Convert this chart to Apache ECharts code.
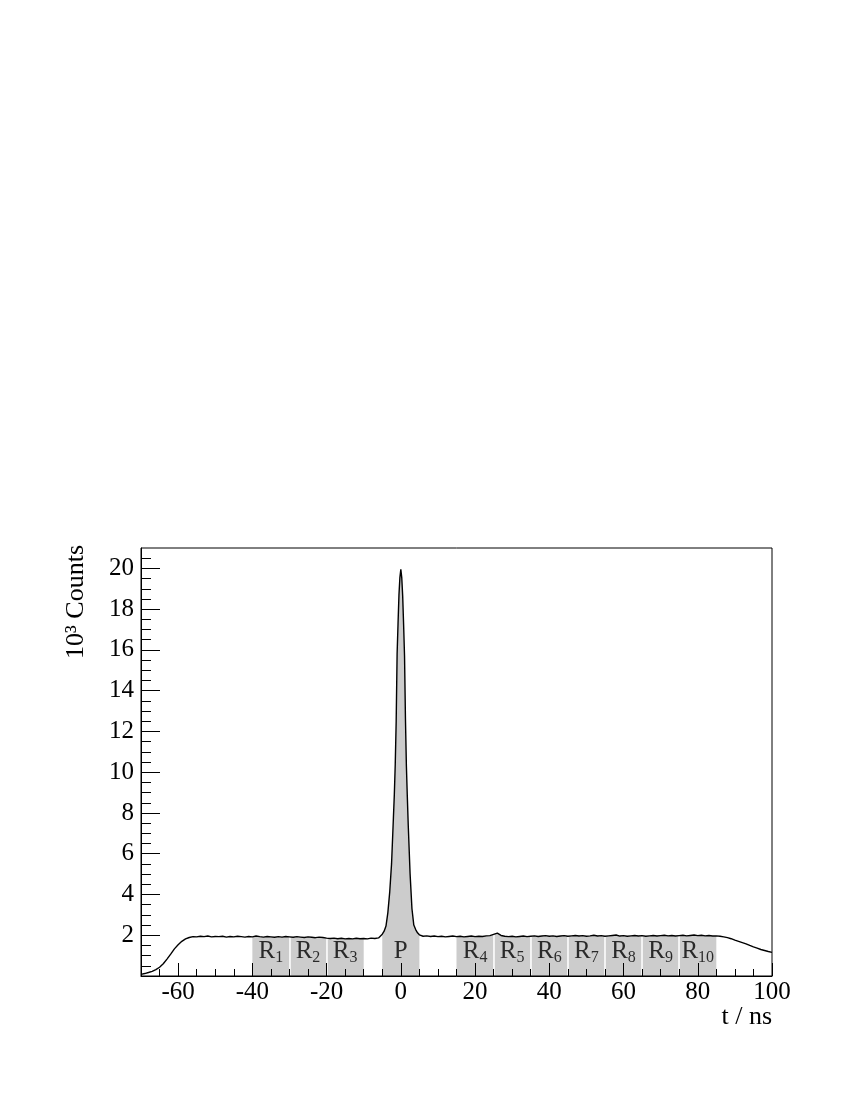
<!DOCTYPE html>
<html>
<head>
<meta charset="utf-8">
<script src="https://cdn.jsdelivr.net/npm/echarts@6/dist/echarts.min.js"></script>
<style>
    html, body { margin: 0; padding: 0; background: #fff; }
    #timechart { width: 850px; height: 1100px; }
</style>
</head>
<body>
<div id="timechart"></div>
<script>
// time axis in ns, counts in units of 10^3
var tNs = [
    -70, -69, -68, -67, -66, -65, -64, -63, -62, -61, -60, -59, -58, -57, -56, -55, -54, -53, -52, -51,
    -50, -49, -48, -47, -46, -45, -44, -43, -42, -41, -40, -39, -38, -37, -36, -35, -34, -33, -32, -31,
    -30, -29, -28, -27, -26, -25, -24, -23, -22, -21, -20, -19, -18, -17, -16, -15, -14, -13, -12, -11,
    -10, -9, -8, -7, -6, -5.5, -5, -4.5, -4, -3.5, -3, -2.5, -2, -1.75, -1.5, -1.25, -1, -0.75, -0.5, -0.25,
    0, 0.25, 0.5, 0.75, 1, 1.25, 1.5, 1.75, 2, 2.5, 3, 3.5, 4, 4.5, 5, 5.5, 6, 7, 8, 9,
    10, 11, 12, 13, 14, 15, 16, 17, 18, 19, 20, 21, 22, 23, 24, 25, 26, 27, 28, 29,
    30, 31, 32, 33, 34, 35, 36, 37, 38, 39, 40, 41, 42, 43, 44, 45, 46, 47, 48, 49,
    50, 51, 52, 53, 54, 55, 56, 57, 58, 59, 60, 61, 62, 63, 64, 65, 66, 67, 68, 69,
    70, 71, 72, 73, 74, 75, 76, 77, 78, 79, 80, 81, 82, 83, 84, 85, 86, 87, 88, 89,
    90, 91, 92, 93, 94, 95, 96, 97, 98, 99, 100
];
var counts = [
    0.08, 0.12, 0.17, 0.23, 0.31, 0.43, 0.60, 0.83, 1.07, 1.33, 1.53, 1.70, 1.82, 1.89, 1.93, 1.92, 1.95, 1.93, 1.96, 1.92,
    1.94, 1.93, 1.95, 1.91, 1.94, 1.92, 1.95, 1.93, 1.91, 1.94, 1.92, 1.96, 1.93, 1.91, 1.94, 1.92, 1.90, 1.93, 1.91, 1.94,
    1.92, 1.90, 1.93, 1.91, 1.89, 1.92, 1.90, 1.88, 1.91, 1.89, 1.86, 1.84, 1.86, 1.83, 1.85, 1.82, 1.84, 1.82, 1.85, 1.83,
    1.84, 1.82, 1.86, 1.84, 1.87, 1.95, 2.05, 2.20, 2.45, 3.10, 4.10, 5.50, 7.75, 8.90, 10.40, 12.50, 15.80, 17.30, 18.70, 19.55,
    19.95, 19.55, 18.65, 17.25, 15.70, 12.60, 10.30, 8.80, 7.40, 5.00, 3.30, 2.50, 2.28, 2.12, 2.02, 1.97, 1.95, 1.97, 1.94, 1.96,
    1.93, 1.95, 1.92, 1.94, 1.96, 1.93, 1.95, 1.92, 1.94, 1.96, 1.93, 1.95, 1.94, 1.97, 1.98, 2.04, 2.10, 1.99, 1.95, 1.93,
    1.95, 1.92, 1.94, 1.96, 1.93, 1.95, 1.97, 1.94, 1.96, 1.98, 1.95, 1.97, 1.94, 1.96, 1.98, 1.95, 1.97, 1.99, 1.96, 1.98,
    1.95, 1.97, 2.00, 1.96, 1.98, 1.95, 1.97, 1.99, 2.01, 1.96, 1.98, 1.95, 1.97, 1.99, 1.96, 1.98, 1.95, 1.97, 1.99, 1.96,
    1.98, 2.00, 1.97, 1.99, 1.96, 1.98, 2.00, 1.97, 1.99, 2.01, 1.98, 2.00, 1.97, 1.99, 1.96, 1.97, 1.95, 1.92, 1.88, 1.83,
    1.76, 1.70, 1.64, 1.58, 1.50, 1.43, 1.37, 1.30, 1.25, 1.20, 1.16
];

// shaded windows: random-coincidence windows R1..R10 and the prompt window P
var regionLo = [-40, -30, -20, -5, 15, 25, 35, 45, 55, 65, 75];
var regionHi = [-30, -20, -10, 5, 25, 35, 45, 55, 65, 75, 85];
var regionName = ['R', 'R', 'R', 'P', 'R', 'R', 'R', 'R', 'R', 'R', 'R'];
var regionSub = ['1', '2', '3', '', '4', '5', '6', '7', '8', '9', '10'];
var labelLevel = 1.2;

var xMajorTicks = [-60, -40, -20, 0, 20, 40, 60, 80, 100];
var xMinorTicks = [-65, -55, -50, -45, -35, -30, -25, -15, -10, -5, 5, 10, 15, 25, 30, 35, 45, 50, 55, 65, 70, 75, 85, 90, 95];
var yMajorTicks = [2, 4, 6, 8, 10, 12, 14, 16, 18, 20];
var yMinorTicks = [0.5, 1, 1.5, 2.5, 3, 3.5, 4.5, 5, 5.5, 6.5, 7, 7.5, 8.5, 9, 9.5, 10.5, 11, 11.5,
    12.5, 13, 13.5, 14.5, 15, 15.5, 16.5, 17, 17.5, 18.5, 19, 19.5, 20.5];

var serif = '"Liberation Serif", "DejaVu Serif", serif';

var chart = echarts.init(document.getElementById('timechart'));

var curve = [];
for (var i = 0; i < tNs.length; i++) {
    curve.push([tNs[i], counts[i]]);
}

function valueAt(t) {
    for (var i = 0; i < tNs.length; i++) {
        if (tNs[i] === t) return counts[i];
    }
    return 0;
}

var series = [];
var labelData = [];
var separators = [];

for (var r = 0; r < regionLo.length; r++) {
    var part = curve.filter(function (p) {
        return p[0] >= regionLo[r] && p[0] <= regionHi[r];
    });
    series.push({
        type: 'line',
        data: part,
        showSymbol: false,
        silent: true,
        z: -2,
        lineStyle: {width: 0},
        areaStyle: {color: '#cccccc', opacity: 1, origin: 'start'}
    });
    var txt = '{r|' + regionName[r] + '}' + (regionSub[r] ? '{s|' + regionSub[r] + '}' : '');
    labelData.push({value: [(regionLo[r] + regionHi[r]) / 2, labelLevel], txt: txt});
    if (r + 1 < regionLo.length && regionHi[r] === regionLo[r + 1]) {
        separators.push([
            {coord: [regionHi[r], 0.02]},
            {coord: [regionHi[r], valueAt(regionHi[r]) - 0.03]}
        ]);
    }
}

// thin white gaps between neighbouring windows
series[0].markLine = {
    silent: true,
    z: -1,
    symbol: ['none', 'none'],
    label: {show: false},
    lineStyle: {color: '#ffffff', width: 1.5, type: 'solid'},
    data: separators
};

series.push({
    type: 'line',
    data: curve,
    showSymbol: false,
    z: 3,
    lineStyle: {color: '#000', width: 1.4}
});

series.push({
    type: 'scatter',
    data: labelData,
    symbolSize: 0,
    z: 4,
    label: {
        show: true,
        position: 'inside',
        formatter: function (p) { return p.data.txt; },
        rich: {
            r: {fontFamily: serif, fontSize: 25, color: '#000', lineHeight: 28, verticalAlign: 'middle'},
            s: {fontFamily: serif, fontSize: 16, color: '#000', lineHeight: 12, verticalAlign: 'bottom'}
        }
    }
});

var option = {
    animation: false,
    backgroundColor: '#fff',
    grid: {
        left: 141,
        right: 78,
        top: 548,
        bottom: 124,
        show: true,
        borderColor: '#000',
        borderWidth: 1
    },
    xAxis: [
        {
            type: 'value',
            min: -70,
            max: 100,
            position: 'bottom',
            axisLine: {onZero: false, lineStyle: {color: '#000', width: 1}},
            axisTick: {inside: true, length: 13, customValues: xMajorTicks, lineStyle: {color: '#000'}},
            axisLabel: {customValues: xMajorTicks, fontFamily: serif, fontSize: 25, color: '#000', margin: 4},
            splitLine: {show: false}
        },
        {
            type: 'value',
            min: -70,
            max: 100,
            position: 'bottom',
            axisLine: {show: false, onZero: false},
            axisTick: {inside: true, length: 7, customValues: xMinorTicks, lineStyle: {color: '#000'}},
            axisLabel: {show: false},
            splitLine: {show: false}
        }
    ],
    yAxis: [
        {
            type: 'value',
            min: 0,
            max: 21,
            position: 'left',
            axisLine: {show: true, onZero: false, lineStyle: {color: '#000', width: 1}},
            axisTick: {show: true, inside: true, length: 19, customValues: yMajorTicks, lineStyle: {color: '#000'}},
            axisLabel: {customValues: yMajorTicks, fontFamily: serif, fontSize: 25, color: '#000', margin: 7},
            splitLine: {show: false}
        },
        {
            type: 'value',
            min: 0,
            max: 21,
            position: 'left',
            axisLine: {show: false, onZero: false},
            axisTick: {show: true, inside: true, length: 10, customValues: yMinorTicks, lineStyle: {color: '#000'}},
            axisLabel: {show: false},
            splitLine: {show: false}
        }
    ],
    graphic: [
        {
            type: 'text',
            x: 76,
            y: 545,
            rotation: Math.PI / 2,
            style: {
                text: '10³ Counts',
                font: '26px ' + serif,
                fill: '#000',
                align: 'right',
                verticalAlign: 'middle'
            }
        },
        {
            type: 'text',
            x: 772,
            y: 1017,
            style: {
                text: 't / ns',
                font: '26px ' + serif,
                fill: '#000',
                align: 'right',
                verticalAlign: 'middle'
            }
        }
    ],
    series: series
};

chart.setOption(option);
window.onresize = chart.resize;
</script>
</body>
</html>
